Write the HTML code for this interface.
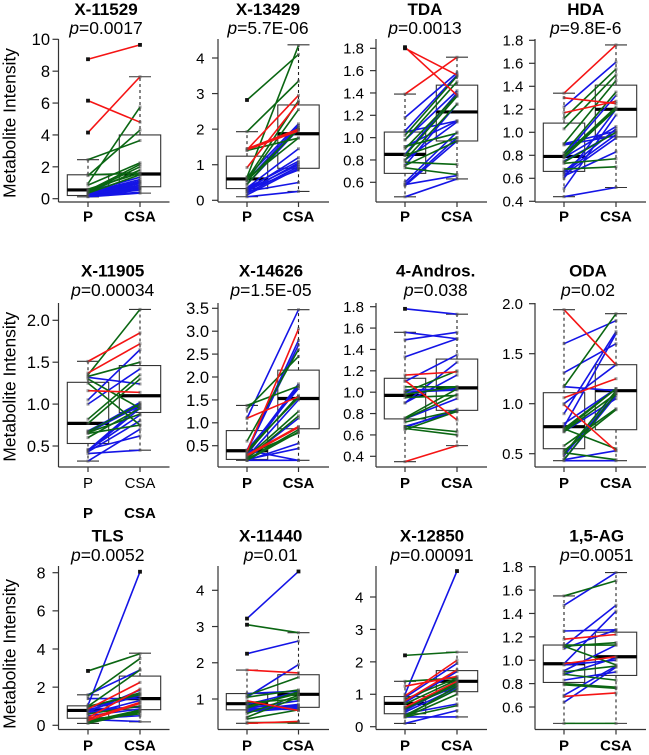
<!DOCTYPE html>
<html lang="en">
<head>
<meta charset="utf-8">
<title>Metabolite intensity, P vs CSA</title>
<style>
html,body{margin:0;padding:0;background:#fff;width:649px;height:755px;overflow:hidden}
svg{display:block;font-family:"Liberation Sans",Arial,sans-serif}
</style>
</head>
<body>
<svg id="figure" xmlns="http://www.w3.org/2000/svg" width="649" height="755" viewBox="0 0 649 755"></svg>
<script>
// Each pair is [P value, CSA value]. Box rows are [whiskerLow, q1, median, q3, whiskerHigh] for P and CSA.
const x11529Ticks=["0","2","4","6","8","10"];
const x11529Red=[[8.75,9.65],[6.15,4.8],[4.15,7.65]];
const x11529Green=[[2.45,3.65],[1.45,4.3],[.95,5.75],[1.5,1.6],[.85,2.25],[.5,2.15],[.45,2],[.4,1.8],[.6,1.6],[.35,1.5]];
const x11529Blue=[[.12,.35],[.15,.55],[.18,.65],[.2,.7],[.22,.85],[.25,.95],[.3,1],[.35,1.1],[.4,1.2],[.45,1.35],[.15,.6],[.28,.75],[.5,1.05],[.2,.4]];
const x11529Box=[[.12,.2,.55,1.5,2.45],[.35,.75,1.55,4,7.65]];

const x13429Ticks=["0","1","2","3","4"];
const x13429Red=[[1.42,2.95],[.92,2.75],[1.42,1.95],[1.45,2]];
const x13429Green=[[2.82,4.1],[1.93,3.35],[.65,4.35],[.6,2.8],[.55,2.55],[.45,2.05],[1.4,1.75],[.6,1.75],[.55,2]];
const x13429Blue=[[.65,2.15],[.55,2.1],[.35,1.45],[.3,1.2],[.35,1.1],[.25,1.05],[.3,1],[.2,.95],[.15,.9],[.3,.85],[.25,.5],[.1,.25],[.45,2]];
const x13429Box=[[.1,.33,.6,1.24,1.93],[.25,.9,1.87,2.68,4.37]];

const tdaTicks=["0.6","0.8","1.0","1.2","1.4","1.6","1.8"];
const tdaRed=[[1.81,1.38],[1.8,1.56],[1.39,1.72]];
const tdaGreen=[[1.02,1.55],[.98,1.5],[.9,1.38],[.84,1.37],[.8,1.3],[.92,1.04],[.84,1],[.78,.76],[.73,.67],[.75,.97]];
const tdaBlue=[[1.18,1.58],[1.06,1.56],[.98,1.42],[.92,1.15],[1.05,1.15],[.85,1.4],[.75,1.3],[.6,1.05],[.58,1],[.57,.97],[.58,.66],[.47,.63],[.8,1.14]];
const tdaBox=[[.47,.68,.85,1.05,1.39],[.63,.97,1.23,1.47,1.72]];

const hdaTicks=["0.4","0.6","0.8","1.0","1.2","1.4","1.6","1.8"];
const hdaRed=[[1.34,1.76],[1.3,1.25],[1.17,1.27]];
const hdaGreen=[[1.12,1.55],[1.03,1.5],[.9,1.45],[.82,1.35],[.8,1.22],[.8,1.2],[.73,.77],[.68,.7],[.74,1],[.78,1.2]];
const hdaBlue=[[1.22,1.61],[.89,.97],[.8,1.32],[.78,1.05],[.75,1],[.66,1.03],[.65,.98],[.63,.95],[.62,.83],[.6,1.2],[.51,1.15],[.44,.52],[.9,1.01]];
const hdaBox=[[.44,.66,.79,1.08,1.34],[.52,.96,1.2,1.41,1.76]];

const x11905Ticks=["0.5","1.0","1.5","2.0"];
const x11905Red=[[1.51,1.85],[1.37,1.72],[1.16,1.14]];
const x11905Green=[[1.35,2.13],[1.33,1.5],[1.3,.95],[1.25,.75],[.82,1.35],[.77,1.3],[.67,1],[.6,.95],[.66,.88],[.65,.75]];
const x11905Blue=[[1.32,1.24],[1.05,1.65],[1,1.42],[.67,1.02],[.68,1],[.45,.98],[.44,.95],[.45,.87],[.43,.8],[.46,.62],[.41,.45],[.32,.7],[.66,.98]];
const x11905Box=[[.32,.53,.77,1.26,1.51],[.45,.9,1.1,1.46,2.13]];

const x14626Ticks=["0.5","1.0","1.5","2.0","2.5","3.0","3.5"];
const x14626Red=[[1.1,1.57],[.37,3.05],[.28,.9],[.3,.92]];
const x14626Green=[[1.38,1.8],[1.3,2.45],[.6,2.6],[.4,1.55],[.35,1.6],[.25,1.25],[.18,.8],[.2,.85],[.3,.78],[.22,1.15]];
const x14626Blue=[[1.1,3.47],[.4,2.8],[.38,2.7],[.35,1.85],[.3,1.8],[.4,1.75],[.25,1.5],[.22,1.1],[.2,.44],[.18,.18],[.4,.18],[.18,.55]];
const x14626Box=[[.18,.2,.39,.83,1.38],[.18,.87,1.53,2.15,3.47]];

const androsTicks=["0.4","0.6","0.8","1.0","1.2","1.4","1.6","1.8"];
const androsRed=[[1.16,1.19],[1.11,.74],[.35,.5]];
const androsGreen=[[1,1.2],[.98,1.05],[.95,.97],[.76,1.03],[.75,.98],[.72,.83],[.68,.63],[.65,.82],[.66,.6],[1.05,1.05]];
const androsBlue=[[1.78,1.73],[1.56,1.5],[1.49,1.56],[1.33,1.5],[1.1,1.35],[1,1.02],[.9,1.28],[.9,1.16],[.75,.94],[.68,.82],[.67,.84],[1.02,1.03]];
const androsBox=[[.35,.75,.97,1.13,1.56],[.5,.83,1.04,1.31,1.73]];

const odaTicks=["0.5","1.0","1.5","2.0"];
const odaRed=[[1.94,1.39],[1.06,1.25],[.99,.53]];
const odaGreen=[[1.17,1.9],[.75,1.15],[.73,1.15],[.72,1.1],[.58,.95],[.53,.94],[.5,1.13],[.75,.55],[.51,.44],[.44,1.1]];
const odaBlue=[[1.6,1.83],[1.31,1.6],[1.17,1.13],[1,1.39],[.9,1.72],[.8,1.15],[.77,1.7],[.72,1.05],[.48,1.1],[.44,1.08],[.44,.53],[.43,.43]];
const odaBox=[[.43,.55,.77,1.11,1.94],[.43,.74,1.13,1.39,1.9]];

const tlsTicks=["0","2","4","6","8"];
const tlsRed=[[.85,2.25],[.4,1.9],[.35,1.2],[.25,1.15]];
const tlsGreen=[[2.85,3.75],[1.55,3.5],[1,2.9],[.95,1.7],[.2,.8],[.15,.75],[.1,.7],[.3,.6],[1,1.6],[.6,1]];
const tlsBlue=[[1.05,8.05],[1.6,2.9],[.9,1.65],[1.4,1.4],[.7,1.85],[.8,1.55],[.7,1],[.6,1.3],[.5,.85],[.35,.5],[.3,.2],[.85,.95]];
const tlsBox=[[.1,.37,.78,1.02,1.6],[.18,.82,1.4,2.58,3.78]];

const x11440Ticks=["1","2","3","4"];
const x11440Red=[[1.8,1.72],[.95,.68],[.33,.38]];
const x11440Green=[[3.05,2.83],[1.1,1.6],[1.05,1.25],[.8,1.15],[.75,1.2],[.6,1.1],[.5,1.05],[.35,.35],[.45,.7],[.9,1]];
const x11440Blue=[[3.22,4.52],[2.25,2.6],[1.05,1.95],[1.15,1.22],[.85,1.2],[.75,.95],[.7,.85],[.65,.82],[.75,.7],[.8,.78],[.65,.75]];
const x11440Box=[[.33,.7,.87,1.15,1.8],[.33,.77,1.13,1.67,2.83]];

const x12850Ticks=["0","1","2","3","4"];
const x12850Red=[[1.25,1.55],[.95,2.05],[.8,1.75],[.6,1.4]];
const x12850Green=[[2.2,2.3],[1.4,1.5],[.85,1.5],[.7,1.45],[.6,1.35],[.55,1.3],[.3,1.25],[.3,1],[.3,.65],[.35,1.15]];
const x12850Blue=[[1,4.8],[.9,1.95],[.75,1.7],[.55,1.4],[.5,1.35],[.45,1.2],[.35,1.15],[.4,.7],[.1,.5],[.3,.3],[.6,1.25]];
const x12850Box=[[.1,.4,.72,.93,1.4],[.3,1.08,1.4,1.73,2.3]];

const ag15Ticks=["0.6","0.8","1.0","1.2","1.4","1.6","1.8"];
const ag15Red=[[1.18,1.22],[.97,1.03],[.69,.72]];
const ag15Green=[[1.55,1.68],[1.13,1.13],[1.12,.96],[1.12,1.15],[.88,.83],[.8,.77],[.79,.76],[.46,.46],[.9,.95]];
const ag15Blue=[[1.47,1.75],[1.25,1.26],[1.12,1.47],[.97,1.42],[.91,1.13],[.88,1.02],[.83,.9],[.7,.95],[.64,.94],[.96,1],[1.1,1.26]];
const ag15Box=[[.46,.81,.97,1.13,1.55],[.46,.87,1.03,1.24,1.75]];

const groupLabels=["P","CSA"];
const seriesColors={blue:"#1414e6",green:"#0a6612",red:"#f51414"};

const columnGeometry=[{axis:58.5,p:88,csa:140},{axis:218,p:247,csa:298.5},{axis:376,p:405,csa:457},{axis:535,p:564,csa:616}];
const rowGeometry=[{top:39,bottom:202,label:221.7,title:15,pLine:34,yCenter:123},{top:303,bottom:467,label:488,title:276.7,pLine:296,yCenter:386.7},{top:566,bottom:729.5,label:750.7,title:541.7,pLine:561,yCenter:653.8}];

const panels=[
 {id:"x-11529",title:"X-11529",pv:"=0.0017",col:0,row:0,cx:106,t0:198.7,t1:39.3,font:16.5,gap:8.5,bold:true,ticks:x11529Ticks,red:x11529Red,green:x11529Green,blue:x11529Blue,box:x11529Box},
 {id:"x-13429",title:"X-13429",pv:"=5.7E-06",col:1,row:0,cx:268,t0:200.3,t1:58,font:15,gap:13.5,bold:true,ticks:x13429Ticks,red:x13429Red,green:x13429Green,blue:x13429Blue,box:x13429Box},
 {id:"tda",title:"TDA",pv:"=0.0013",col:2,row:0,cx:425,t0:182.3,t1:48.3,font:15,gap:12,bold:true,ticks:tdaTicks,red:tdaRed,green:tdaGreen,blue:tdaBlue,box:tdaBox},
 {id:"hda",title:"HDA",pv:"=9.8E-6",col:3,row:0,cx:585.7,t0:201.3,t1:40.3,font:15,gap:11.7,bold:true,ticks:hdaTicks,red:hdaRed,green:hdaGreen,blue:hdaBlue,box:hdaBox},
 {id:"x-11905",title:"X-11905",pv:"=0.00034",col:0,row:1,cx:112.7,t0:446,t1:320.3,font:16.5,gap:8.7,bold:false,ticks:x11905Ticks,red:x11905Red,green:x11905Green,blue:x11905Blue,box:x11905Box},
 {id:"x-14626",title:"X-14626",pv:"=1.5E-05",col:1,row:1,cx:271,t0:445.7,t1:308.3,font:16.5,gap:9,bold:true,ticks:x14626Ticks,red:x14626Red,green:x14626Green,blue:x14626Blue,box:x14626Box},
 {id:"4-andros",title:"4-Andros.",pv:"=0.038",col:2,row:1,cx:435.7,t0:456.3,t1:306.7,font:15,gap:12,bold:true,ticks:androsTicks,red:androsRed,green:androsGreen,blue:androsBlue,box:androsBox},
 {id:"oda",title:"ODA",pv:"=0.02",col:3,row:1,cx:588,t0:453.7,t1:303.7,font:15,gap:12,bold:true,ticks:odaTicks,red:odaRed,green:odaGreen,blue:odaBlue,box:odaBox},
 {id:"tls",title:"TLS",pv:"=0.0052",col:0,row:2,cx:107.7,t0:725.3,t1:572.7,font:16,gap:13,bold:true,ticks:tlsTicks,red:tlsRed,green:tlsGreen,blue:tlsBlue,box:tlsBox},
 {id:"x-11440",title:"X-11440",pv:"=0.01",col:1,row:2,cx:270.7,t0:699,t1:590.3,font:15,gap:13.7,bold:true,ticks:x11440Ticks,red:x11440Red,green:x11440Green,blue:x11440Blue,box:x11440Box},
 {id:"x-12850",title:"X-12850",pv:"=0.00091",col:2,row:2,cx:432,t0:726.7,t1:597,font:15,gap:12.7,bold:true,ticks:x12850Ticks,red:x12850Red,green:x12850Green,blue:x12850Blue,box:x12850Box},
 {id:"1-5-ag",title:"1,5-AG",pv:"=0.0051",col:3,row:2,cx:596.7,t0:707,t1:566.7,font:15,gap:12,bold:true,ticks:ag15Ticks,red:ag15Red,green:ag15Green,blue:ag15Blue,box:ag15Box}
];

const NS="http://www.w3.org/2000/svg";
const root=document.getElementById("figure");
function shape(parent,tag,attrs){
  const el=document.createElementNS(NS,tag);
  for(const k in attrs){el.setAttribute(k,attrs[k]);}
  parent.appendChild(el);
  return el;
}
function yAxisFor(panel){
  const vFirst=parseFloat(panel.ticks[0]);
  const vLast=parseFloat(panel.ticks[panel.ticks.length-1]);
  return function(v){return panel.t0+(v-vFirst)*(panel.t1-panel.t0)/(vLast-vFirst);};
}
function xAxisFor(panel){
  const c=columnGeometry[panel.col];
  return function(groupIndex){return groupIndex===0?c.p:c.csa;};
}

panels.forEach(function(panel){
  const col=columnGeometry[panel.col];
  const row=rowGeometry[panel.row];
  const y=yAxisFor(panel);
  const x=xAxisFor(panel);
  const g=shape(root,"g",{});
  
  

  const title=shape(g,"text",{x:panel.cx,y:row.title,"text-anchor":"middle","font-size":"17","font-weight":"bold",fill:"#000"});
  title.textContent=panel.title;
  
  

  const pText=shape(g,"text",{x:panel.cx,y:row.pLine,"text-anchor":"middle","font-size":"17.5",fill:"#000"});
  
  
  const pItalic=shape(pText,"tspan",{"font-style":"italic"});
  pItalic.textContent="p";
  const pRest=shape(pText,"tspan",{});
  pRest.textContent=panel.pv;

  const yAxisLine=shape(g,"line",{x1:col.axis,x2:col.axis,y1:row.top,y2:row.bottom,stroke:"#333","stroke-width":"1.2"});
  
  
  const xAxisLine=shape(g,"line",{x1:col.axis,x2:col.axis+111,y1:row.bottom,y2:row.bottom,stroke:"#333","stroke-width":"1.2"});
  
  

  panel.ticks.forEach(function(label){
    const yy=y(parseFloat(label));
    const tick=shape(g,"line",{x1:col.axis-6,x2:col.axis,y1:yy,y2:yy,stroke:"#333","stroke-width":"1.2"});
    
    
    const tl=shape(g,"text",{x:col.axis-panel.gap,y:yy+panel.font*0.36,"text-anchor":"end","font-size":panel.font,fill:"#000"});
    tl.textContent=label;
    
    
  });

  groupLabels.forEach(function(label,i){
    const mark=shape(g,"line",{x1:x(i),x2:x(i),y1:row.bottom,y2:row.bottom+5,stroke:"#333","stroke-width":"1.2"});
    
    
    const tl=shape(g,"text",{x:x(i),y:row.label,"text-anchor":"middle","font-size":"15","font-weight":panel.bold?"bold":"normal",fill:"#000"});
    tl.textContent=label;
    
    
  });

  panel.box.forEach(function(stats,i){
    const cx=x(i);
    const whisker=shape(g,"path",{d:"M"+cx+" "+y(stats[1])+"V"+y(stats[0])+"M"+cx+" "+y(stats[3])+"V"+y(stats[4]),stroke:"#222","stroke-width":"1.1","stroke-dasharray":"3 3",fill:"none"});
    
    
    const caps=shape(g,"path",{d:"M"+(cx-11)+" "+y(stats[0])+"H"+(cx+11)+"M"+(cx-11)+" "+y(stats[4])+"H"+(cx+11),stroke:"#333","stroke-width":"1.1",fill:"none"});
    
    
    const rect=shape(g,"rect",{x:cx-20.7,width:41.4,y:y(stats[3]),height:y(stats[1])-y(stats[3]),fill:"none",stroke:"#333","stroke-width":"1.1"});
    
    
    const median=shape(g,"line",{x1:cx-20.7,x2:cx+20.7,y1:y(stats[2]),y2:y(stats[2]),stroke:"#000","stroke-width":"3.2"});
    
    
  });

  ["blue","green","red"].forEach(function(series){
    panel[series].forEach(function(pair){
      const line=shape(g,"line",{x1:x(0),y1:y(pair[0]),x2:x(1),y2:y(pair[1]),stroke:seriesColors[series],"stroke-width":"1.6"});
      
      
      pair.forEach(function(value,i){
        const outlier=value>panel.box[i][4]+0.001;
        const size=outlier?3.8:3;
        const point=shape(g,"rect",{x:x(i)-size/2,y:y(value)-size/2,width:size,height:size,fill:outlier?"#111":"rgba(80,80,80,.55)"});
        
        
      });
    });
  });
});

rowGeometry.forEach(function(row){
  const label=shape(root,"text",{transform:"translate(15.7 "+row.yCenter+") rotate(-90)","text-anchor":"middle","font-size":"17.4",fill:"#000"});
  label.textContent="Metabolite Intensity";
  
  
});

groupLabels.forEach(function(text,i){
  const stray=shape(root,"text",{x:i===0?88:140,y:518,"text-anchor":"middle","font-size":"15","font-weight":"bold",fill:"#000"});
  stray.textContent=text;
  
  
});
</script>
</body>
</html>
